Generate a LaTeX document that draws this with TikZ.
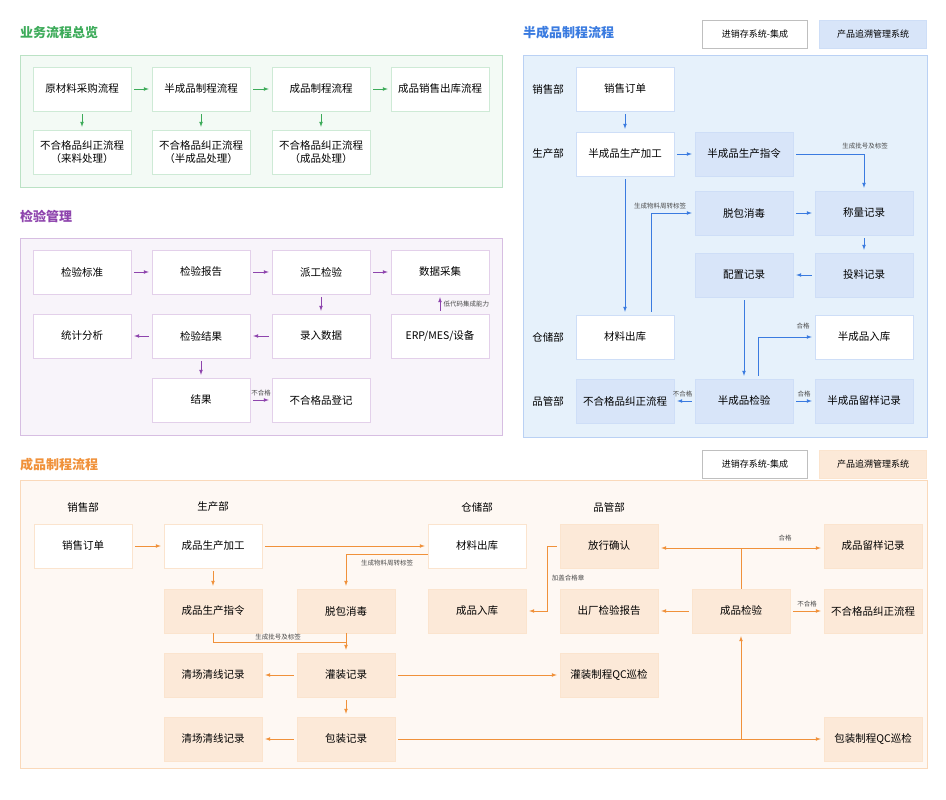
\documentclass[tikz,border=0pt]{standalone}
\usepackage{fontspec}
\setmainfont{Noto Sans CJK SC}
\definecolor{grn}{HTML}{3DAB5A}
\definecolor{pur}{HTML}{8E44AD}
\definecolor{blu}{HTML}{3A7BE0}
\definecolor{org}{HTML}{F0913A}
\definecolor{bpan}{HTML}{E6F1FB}
\tikzset{
  box/.style={draw=#1!25, fill=white, minimum width=98pt, minimum height=44pt, font=\fontsize{10.5}{12.5}\selectfont, inner sep=1pt},
  fbox/.style={box=#1, fill=#1!20},
  panel/.style={draw=#1!35, fill=#1!6},
  ttl/.style={text=#1, font=\fontsize{13}{15}\selectfont\bfseries, anchor=west, inner sep=0pt},
  dept/.style={font=\fontsize{10.5}{12}\selectfont},
  tag/.style={font=\fontsize{6.5}{7.5}\selectfont, text=black!70},
  arr/.style={->, >=latex, #1, line width=0.7pt, shorten >=3pt, shorten <=3pt}
}
\begin{document}
\begin{tikzpicture}[x=1pt,y=-1pt]
\useasboundingbox (0,0) rectangle (946,800);

% Panels
\draw[panel=grn] (20,55) rectangle (502,187);
\draw[panel=pur] (20,238) rectangle (502,435);
\draw[draw=blu!35, fill=bpan] (523,55) rectangle (927,437);
\draw[panel=org] (20,480) rectangle (927,768);

\node[ttl=grn] at (20,33) {业务流程总览};
\node[ttl=pur] at (20,216) {检验管理};
\node[ttl=blu] at (523,33) {半成品制程流程};
\node[ttl=org] at (20,465) {成品制程流程};

% Legends
\node[box=black, minimum width=105pt, minimum height=28pt, font=\fontsize{9}{10}\selectfont] (lgA) at (755,34) {进销存系统-集成};
\node[fbox=blu, minimum width=107pt, minimum height=28pt, font=\fontsize{9}{10}\selectfont] (lgB) at (873,34) {产品追溯管理系统};
\node[box=black, minimum width=105pt, minimum height=28pt, font=\fontsize{9}{10}\selectfont] (lgC) at (755,464) {进销存系统-集成};
\node[fbox=org, minimum width=107pt, minimum height=28pt, font=\fontsize{9}{10}\selectfont] (lgD) at (873,464) {产品追溯管理系统};

% 业务流程总览
\node[box=grn] (ycl) at (82,89) {原材料采购流程};
\node[box=grn] (bcp) at (201,89) {半成品制程流程};
\node[box=grn] (cp) at (321,89) {成品制程流程};
\node[box=grn] (xs) at (440,89) {成品销售出库流程};
\node[box=grn, align=center] (bh1) at (82,152) {不合格品纠正流程\\（来料处理）};
\node[box=grn, align=center] (bh2) at (201,152) {不合格品纠正流程\\（半成品处理）};
\node[box=grn, align=center] (bh3) at (321,152) {不合格品纠正流程\\（成品处理）};
\draw[arr=grn] (ycl) -- (bcp);
\draw[arr=grn] (bcp) -- (cp);
\draw[arr=grn] (cp) -- (xs);
\draw[arr=grn] (ycl) -- (bh1);
\draw[arr=grn] (bcp) -- (bh2);
\draw[arr=grn] (cp) -- (bh3);

% 检验管理
\node[box=pur] (bz) at (82,272) {检验标准};
\node[box=pur] (bg) at (201,272) {检验报告};
\node[box=pur] (pg) at (321,272) {派工检验};
\node[box=pur] (cj) at (440,272) {数据采集};
\node[box=pur] (tj) at (82,336) {统计分析};
\node[box=pur] (jg) at (201,336) {检验结果};
\node[box=pur] (lr) at (321,336) {录入数据};
\node[box=pur] (erp) at (440,336) {ERP/MES/设备};
\node[box=pur] (res) at (201,400) {结果};
\node[box=pur] (bhdj) at (321,400) {不合格品登记};
\draw[arr=pur] (bz) -- (bg);
\draw[arr=pur] (bg) -- (pg);
\draw[arr=pur] (pg) -- (cj);
\draw[arr=pur] (pg) -- (lr);
\draw[arr=pur] (lr) -- (jg);
\draw[arr=pur] (jg) -- (tj);
\draw[arr=pur] (jg) -- (res);
\draw[arr=pur] (res) -- node[tag, above] {不合格} (bhdj);
\draw[arr=pur] (erp) -- node[tag, right] {低代码集成能力} (cj);

% 半成品制程流程
\node[dept] at (548,89) {销售部};
\node[dept] at (548,154) {生产部};
\node[dept] at (548,337) {仓储部};
\node[dept] at (548,401) {品管部};
\node[box=blu] (bdd) at (625,89) {销售订单};
\node[box=blu] (bjg) at (625,154) {半成品生产加工};
\node[fbox=blu] (bzl) at (744,154) {半成品生产指令};
\node[fbox=blu] (btb) at (744,213) {脱包消毒};
\node[fbox=blu] (bcl) at (864,213) {称量记录};
\node[fbox=blu] (bpz) at (744,275) {配置记录};
\node[fbox=blu] (btl) at (864,275) {投料记录};
\node[box=blu] (bck) at (625,337) {材料出库};
\node[box=blu] (brk) at (864,337) {半成品入库};
\node[fbox=blu] (bbh) at (625,401) {不合格品纠正流程};
\node[fbox=blu] (bjy) at (744,401) {半成品检验};
\node[fbox=blu] (bly) at (864,401) {半成品留样记录};
\draw[arr=blu] (bdd) -- (bjg);
\draw[arr=blu] (bjg) -- (bzl);
\draw[arr=blu] (bzl) -| (bcl);
\node[tag] at (865,146) {生成批号及标签};
\draw[arr=blu] (bjg) -- (bck);
\draw[arr=blu] (bck.north -| 651,0) |- (btb);
\node[tag] at (660,206) {生成物料周转标签};
\draw[arr=blu] (btb) -- (bcl);
\draw[arr=blu] (bcl) -- (btl);
\draw[arr=blu] (btl) -- (bpz);
\draw[arr=blu] (bpz) -- (bjy);
\draw[arr=blu] (bjy.north -| 758,0) |- (brk);
\node[tag] at (803,326) {合格};
\draw[arr=blu] (bjy) -- node[tag, above] {合格} (bly);
\draw[arr=blu] (bjy) -- node[tag, above, xshift=-2pt] {不合格} (bbh);

% 成品制程流程
\node[dept] at (83,507) {销售部};
\node[dept] at (213,507) {生产部};
\node[dept] at (477,507) {仓储部};
\node[dept] at (609,507) {品管部};
\node[box=org] (cdd) at (83,546) {销售订单};
\node[box=org] (cjg) at (213,546) {成品生产加工};
\node[box=org] (cck) at (477,546) {材料出库};
\node[fbox=org] (cfx) at (609,546) {放行确认};
\node[fbox=org] (cly) at (873,546) {成品留样记录};
\node[fbox=org] (czl) at (213,611) {成品生产指令};
\node[fbox=org] (ctb) at (346,611) {脱包消毒};
\node[fbox=org] (crk) at (477,611) {成品入库};
\node[fbox=org] (cbg) at (609,611) {出厂检验报告};
\node[fbox=org] (cjy) at (741,611) {成品检验};
\node[fbox=org] (cbh) at (873,611) {不合格品纠正流程};
\node[fbox=org] (cqc1) at (213,675) {清场清线记录};
\node[fbox=org] (cgz) at (346,675) {灌装记录};
\node[fbox=org] (cgqc) at (609,675) {灌装制程QC巡检};
\node[fbox=org] (cqc2) at (213,739) {清场清线记录};
\node[fbox=org] (cbz) at (346,739) {包装记录};
\node[fbox=org] (cbqc) at (873,739) {包装制程QC巡检};
\coordinate (bend) at (741,739);
\coordinate (fork) at (741,548);
\coordinate (fxl) at (547,546);
\draw[arr=org] (cdd) -- (cjg);
\draw[arr=org] (cjg) -- (cck);
\draw[arr=org] (cjg) -- (czl);
\draw[arr=org, shorten <=0pt] (cck.west |- 0,554) -| (ctb);
\node[tag] at (387,563) {生成物料周转标签};
\draw[arr=org, shorten <=0pt] (czl.south) |- (346,642) -- (cgz);
\node[tag] at (278,637) {生成批号及标签};
\draw[org, line width=0.7pt] (ctb) -- (346,642);
\draw[arr=org] (cgz) -- (cqc1);
\draw[arr=org] (cgz) -- (cgqc);
\draw[arr=org] (cgz) -- (cbz);
\draw[arr=org] (cbz) -- (cqc2);
\draw[arr=org] (cbz) -- (cbqc);
\draw[arr=org, shorten <=0pt] (bend) -- (cjy);
\draw[arr=org] (cjy) -- (cbg);
\draw[arr=org] (cjy) -- node[tag, above] {不合格} (cbh);
\draw[org, line width=0.7pt] (cjy) -- (fork);
\draw[arr=org, shorten <=0pt] (fork) -- (cfx.east |- fork);
\draw[arr=org, shorten <=0pt] (fork) -- (cly.west |- fork);
\node[tag] at (785,538) {合格};
\draw[arr=org] (cfx.west) -- (fxl) |- (crk);
\node[tag] at (568,578) {加盖合格章};
\end{tikzpicture}
\end{document}
